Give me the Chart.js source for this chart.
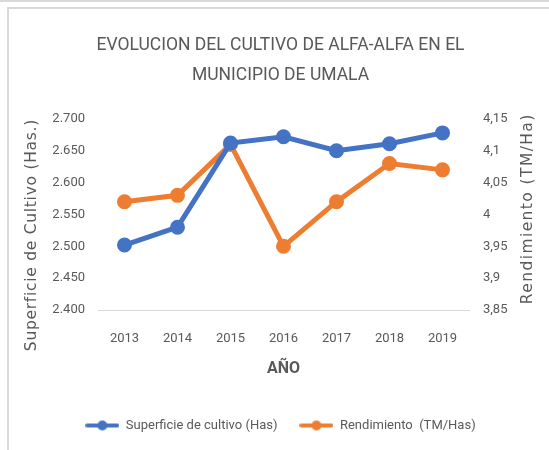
<!DOCTYPE html>
<html><head><meta charset="utf-8">
<script src="https://cdn.jsdelivr.net/npm/chart.js@4/dist/chart.umd.min.js"></script>
<style>
html,body{margin:0;padding:0;background:#fff;}
#wrap{position:relative;width:549px;height:450px;overflow:hidden;}
#c{position:absolute;left:0;top:0;}
.ln{position:absolute;background:#d9d9d9;}
</style></head>
<body>
<div id="wrap">
<canvas id="c" width="549" height="450"></canvas>
<div class="ln" style="left:0;top:0;width:549px;height:2px;"></div>
<div class="ln" style="left:8px;top:7px;width:541px;height:2px;"></div>
<div class="ln" style="left:7px;top:7px;width:2px;height:443px;"></div>
</div>
<script>
const years = ['2013','2014','2015','2016','2017','2018','2019'];
const superficie = [2502, 2530, 2662, 2672, 2650, 2661, 2678];
const rendimiento = [4.02, 4.03, 4.11, 3.95, 4.02, 4.08, 4.07];
const titleLines = ['EVOLUCION DEL CULTIVO DE ALFA-ALFA EN EL', 'MUNICIPIO DE UMALA'];
const seriesNames = ['Superficie de cultivo (Has)', 'Rendimiento  (TM/Has)'];
const leftTitle = 'Superficie de Cultivo (Has.)';
const rightTitle = 'Rendimiento (TM/Ha)';
const xTitle = 'AÑO';

const BLUE = '#4472C4', ORANGE = '#ED7D31', TXT = '#595959';
const FONT = 'Roboto, sans-serif';
const TITLEFONT = '"DejaVu Sans", sans-serif';

function legendIcon(color){
  const cv = document.createElement('canvas');
  cv.width = 34; cv.height = 12;
  const g = cv.getContext('2d');
  g.strokeStyle = color; g.lineWidth = 4; g.lineCap = 'round';
  g.beginPath(); g.moveTo(2,6); g.lineTo(32,6); g.stroke();
  g.fillStyle = color; g.beginPath(); g.arc(17,6,5,0,Math.PI*2); g.fill();
  return cv;
}
const icons = [legendIcon(BLUE), legendIcon(ORANGE)];

// vertical axis titles, both reading bottom-to-top (as in the original), letter-spaced
function drawVTitle(ctx, text, cx, cy, targetLen) {
  ctx.save();
  ctx.font = '15.5px ' + TITLEFONT;
  const w = ctx.measureText(text).width;
  const sp = Math.max(0, (targetLen - w) / text.length);
  ctx.letterSpacing = sp.toFixed(2) + 'px';
  ctx.fillStyle = TXT;
  ctx.textAlign = 'center'; ctx.textBaseline = 'middle';
  ctx.translate(cx, cy); ctx.rotate(-Math.PI / 2);
  ctx.fillText(text, sp / 2, 0);
  ctx.restore();
}
const axisTitles = {
  id: 'axisTitles',
  afterDraw(chart) {
    const ctx = chart.ctx, ca = chart.chartArea;
    const mid = (ca.top + ca.bottom) / 2;
    drawVTitle(ctx, leftTitle, 32, mid + 21, 232);
    drawVTitle(ctx, rightTitle, 528, mid - 5, 191);
  }
};

new Chart(document.getElementById('c'), {
  type: 'line',
  data: {
    labels: years,
    datasets: [
      {label: seriesNames[0], data: superficie, yAxisID: 'y', borderColor: BLUE, backgroundColor: BLUE,
       borderWidth: 5, pointRadius: 5, pointBackgroundColor: BLUE, pointBorderColor: BLUE, tension: 0},
      {label: seriesNames[1], data: rendimiento, yAxisID: 'y1', borderColor: ORANGE, backgroundColor: ORANGE,
       borderWidth: 5, pointRadius: 5, pointBackgroundColor: ORANGE, pointBorderColor: ORANGE, tension: 0}
    ]
  },
  plugins: [axisTitles],
  options: {
    responsive: false, animation: false,
    layout: {padding: {left: 26, right: 14, top: 8, bottom: 8}},
    plugins: {
      tooltip: {enabled: false},
      title: {display: true, text: titleLines, color: TXT,
        font: {family: FONT, size: 17.5, weight: 'normal', lineHeight: 1.74},
        padding: {top: 22, bottom: 28}},
      legend: {position: 'bottom',
        labels: {usePointStyle: true, pointStyleWidth: 34, color: TXT, font: {family: FONT, size: 13}, padding: 22,
          generateLabels: (chart) => chart.data.datasets.map((d, i) => ({
            text: d.label, fillStyle: d.borderColor, strokeStyle: d.borderColor,
            pointStyle: icons[i], fontColor: TXT, datasetIndex: i, hidden: false, lineWidth: 0
          }))
        }}
    },
    scales: {
      x: {offset: true, grid: {display: false, drawTicks: false}, border: {display: true, color: '#d9d9d9', width: 1},
        ticks: {color: TXT, font: {family: FONT, size: 13}, padding: 21},
        title: {display: true, text: xTitle, color: TXT, font: {family: FONT, size: 16, weight: 'bold'}, padding: {top: 13, bottom: 18}},
        afterFit: (s) => { s.height = 87; }},
      y: {position: 'left', min: 2400, max: 2700,
        grid: {display: false, drawTicks: false}, border: {display: false},
        ticks: {stepSize: 50, color: TXT, font: {family: FONT, size: 13}, padding: 13,
          callback: (v) => (v/1000).toFixed(3)},
        afterFit: (s) => { s.width = 72; }},
      y1: {position: 'right', min: 3.85, max: 4.15,
        grid: {display: false, drawTicks: false}, border: {display: false},
        ticks: {stepSize: 0.05, color: TXT, font: {family: FONT, size: 13}, padding: 14,
          callback: (v) => String(Number(v.toFixed(2))).replace('.', ',')},
        afterFit: (s) => { s.width = 66; }}
    }
  }
});
</script>
</body></html>
